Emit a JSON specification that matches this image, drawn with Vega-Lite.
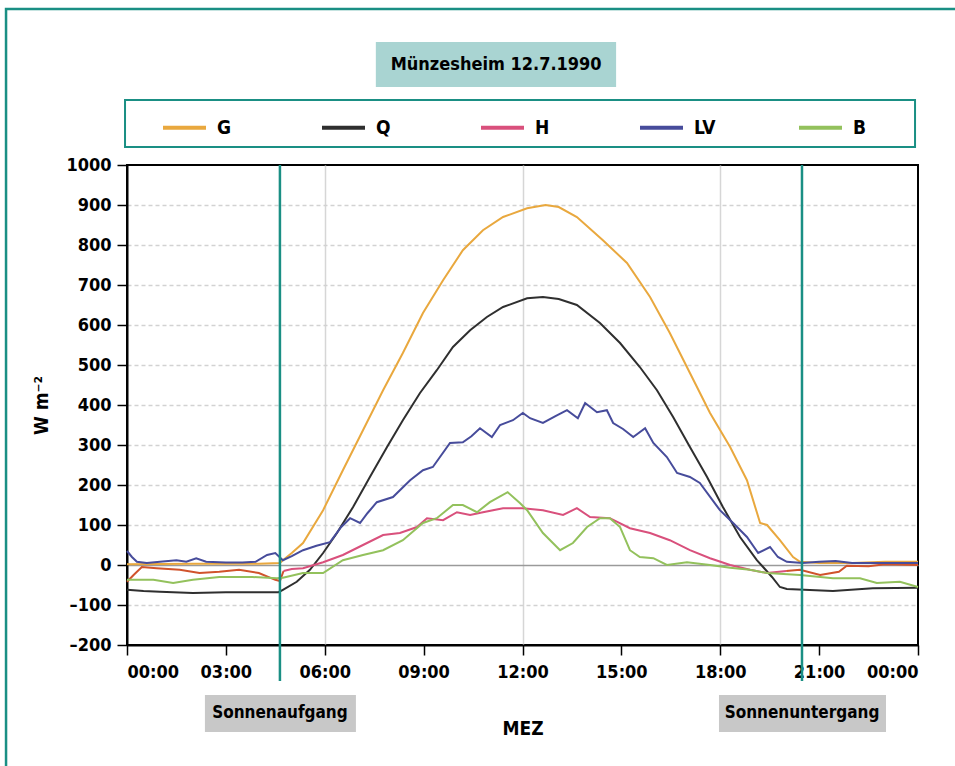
{
  "$schema": "https://vega.github.io/schema/vega-lite/v6.json",
  "width": 791,
  "height": 480,
  "autosize": {"type": "none"},
  "padding": {"left": 127, "top": 165, "right": 37, "bottom": 121},
  "background": "white",
  "config": {
    "font": "DejaVu Sans Condensed",
    "view": {"stroke": "#000000", "strokeWidth": 2},
    "axis": {"labelFont": "DejaVu Sans Condensed", "titleFont": "DejaVu Sans Condensed", "labelFontWeight": "bold", "titleFontWeight": "bold", "labelColor": "#000", "titleColor": "#000", "labelFontSize": 18, "titleFontSize": 19, "domainColor": "#000", "tickColor": "#000", "tickWidth": 1.5, "domainWidth": 2, "labelOverlap": false}
  },
  "datasets": {
    "series": [
      {"serie":"G","zeit":0,"wert":2},{"serie":"G","zeit":2,"wert":3},{"serie":"G","zeit":4,"wert":3},{"serie":"G","zeit":4.64,"wert":5},{"serie":"G","zeit":4.73,"wert":12},{"serie":"G","zeit":5.0,"wert":30},{"serie":"G","zeit":5.34,"wert":55},{"serie":"G","zeit":5.95,"wert":137},{"serie":"G","zeit":6.55,"wert":237},{"serie":"G","zeit":7.16,"wert":337},{"serie":"G","zeit":7.77,"wert":437},{"serie":"G","zeit":8.37,"wert":530},{"serie":"G","zeit":8.98,"wert":630},{"serie":"G","zeit":9.59,"wert":712},{"serie":"G","zeit":10.19,"wert":787},{"serie":"G","zeit":10.8,"wert":837},{"serie":"G","zeit":11.41,"wert":870},{"serie":"G","zeit":12.14,"wert":892},{"serie":"G","zeit":12.7,"wert":900},{"serie":"G","zeit":13.1,"wert":895},{"serie":"G","zeit":13.65,"wert":870},{"serie":"G","zeit":14.44,"wert":812},{"serie":"G","zeit":15.17,"wert":755},{"serie":"G","zeit":15.87,"wert":670},{"serie":"G","zeit":16.47,"wert":580},{"serie":"G","zeit":17.08,"wert":480},{"serie":"G","zeit":17.69,"wert":380},{"serie":"G","zeit":18.3,"wert":295},{"serie":"G","zeit":18.81,"wert":212},{"serie":"G","zeit":19.21,"wert":105},{"serie":"G","zeit":19.42,"wert":100},{"serie":"G","zeit":19.81,"wert":62},{"serie":"G","zeit":20.21,"wert":20},{"serie":"G","zeit":20.42,"wert":8},{"serie":"G","zeit":21,"wert":5},{"serie":"G","zeit":22,"wert":5},{"serie":"G","zeit":23,"wert":8},{"serie":"G","zeit":24,"wert":8},
      {"serie":"Q","zeit":0,"wert":-62},{"serie":"Q","zeit":0.5,"wert":-65},{"serie":"Q","zeit":1,"wert":-67},{"serie":"Q","zeit":2,"wert":-70},{"serie":"Q","zeit":3,"wert":-68},{"serie":"Q","zeit":4,"wert":-68},{"serie":"Q","zeit":4.6,"wert":-68},{"serie":"Q","zeit":4.73,"wert":-62},{"serie":"Q","zeit":5.15,"wert":-42},{"serie":"Q","zeit":5.55,"wert":-12},{"serie":"Q","zeit":5.95,"wert":30},{"serie":"Q","zeit":6.37,"wert":80},{"serie":"Q","zeit":6.86,"wert":145},{"serie":"Q","zeit":7.37,"wert":220},{"serie":"Q","zeit":7.89,"wert":295},{"serie":"Q","zeit":8.37,"wert":362},{"serie":"Q","zeit":8.89,"wert":430},{"serie":"Q","zeit":9.4,"wert":487},{"serie":"Q","zeit":9.89,"wert":545},{"serie":"Q","zeit":10.41,"wert":587},{"serie":"Q","zeit":10.92,"wert":620},{"serie":"Q","zeit":11.41,"wert":645},{"serie":"Q","zeit":12.14,"wert":667},{"serie":"Q","zeit":12.62,"wert":670},{"serie":"Q","zeit":13.1,"wert":665},{"serie":"Q","zeit":13.65,"wert":650},{"serie":"Q","zeit":14.35,"wert":605},{"serie":"Q","zeit":14.96,"wert":555},{"serie":"Q","zeit":15.56,"wert":495},{"serie":"Q","zeit":16.08,"wert":437},{"serie":"Q","zeit":16.57,"wert":370},{"serie":"Q","zeit":17.08,"wert":295},{"serie":"Q","zeit":17.6,"wert":220},{"serie":"Q","zeit":18.08,"wert":145},{"serie":"Q","zeit":18.6,"wert":70},{"serie":"Q","zeit":19.11,"wert":12},{"serie":"Q","zeit":19.3,"wert":-5},{"serie":"Q","zeit":19.57,"wert":-30},{"serie":"Q","zeit":19.81,"wert":-55},{"serie":"Q","zeit":20.02,"wert":-60},{"serie":"Q","zeit":21.42,"wert":-65},{"serie":"Q","zeit":22.63,"wert":-58},{"serie":"Q","zeit":24,"wert":-57},
      {"serie":"Hn1","zeit":0,"wert":-42},{"serie":"Hn1","zeit":0.2,"wert":-25},{"serie":"Hn1","zeit":0.45,"wert":-5},{"serie":"Hn1","zeit":0.9,"wert":-8},{"serie":"Hn1","zeit":1.6,"wert":-12},{"serie":"Hn1","zeit":2.2,"wert":-20},{"serie":"Hn1","zeit":2.8,"wert":-17},{"serie":"Hn1","zeit":3.4,"wert":-12},{"serie":"Hn1","zeit":4.0,"wert":-20},{"serie":"Hn1","zeit":4.5,"wert":-37},{"serie":"Hn1","zeit":4.64,"wert":-40},{"serie":"Hn1","zeit":4.75,"wert":-15},
      {"serie":"H","zeit":4.75,"wert":-15},{"serie":"H","zeit":5.0,"wert":-10},{"serie":"H","zeit":5.34,"wert":-8},{"serie":"H","zeit":5.95,"wert":7},{"serie":"H","zeit":6.55,"wert":25},{"serie":"H","zeit":7.16,"wert":50},{"serie":"H","zeit":7.77,"wert":75},{"serie":"H","zeit":8.28,"wert":80},{"serie":"H","zeit":8.8,"wert":95},{"serie":"H","zeit":9.1,"wert":117},{"serie":"H","zeit":9.59,"wert":112},{"serie":"H","zeit":10.01,"wert":132},{"serie":"H","zeit":10.41,"wert":125},{"serie":"H","zeit":10.8,"wert":132},{"serie":"H","zeit":11.41,"wert":142},{"serie":"H","zeit":12.01,"wert":142},{"serie":"H","zeit":12.62,"wert":137},{"serie":"H","zeit":13.23,"wert":125},{"serie":"H","zeit":13.65,"wert":142},{"serie":"H","zeit":14.05,"wert":120},{"serie":"H","zeit":14.65,"wert":117},{"serie":"H","zeit":15.26,"wert":92},{"serie":"H","zeit":15.87,"wert":80},{"serie":"H","zeit":16.47,"wert":62},{"serie":"H","zeit":17.08,"wert":37},{"serie":"H","zeit":17.69,"wert":17},{"serie":"H","zeit":18.3,"wert":0},{"serie":"H","zeit":18.9,"wert":-12},{"serie":"H","zeit":19.42,"wert":-20},{"serie":"H","zeit":20.0,"wert":-15},
      {"serie":"Hn2","zeit":20.0,"wert":-15},{"serie":"Hn2","zeit":20.42,"wert":-12},{"serie":"Hn2","zeit":21.03,"wert":-25},{"serie":"Hn2","zeit":21.6,"wert":-17},{"serie":"Hn2","zeit":21.84,"wert":-2},{"serie":"Hn2","zeit":22.5,"wert":-3},{"serie":"Hn2","zeit":23,"wert":2},{"serie":"Hn2","zeit":24,"wert":0},
      {"serie":"LV","zeit":0,"wert":35},{"serie":"LV","zeit":0.15,"wert":20},{"serie":"LV","zeit":0.3,"wert":8},{"serie":"LV","zeit":0.6,"wert":5},{"serie":"LV","zeit":1.0,"wert":8},{"serie":"LV","zeit":1.5,"wert":12},{"serie":"LV","zeit":1.8,"wert":8},{"serie":"LV","zeit":2.1,"wert":17},{"serie":"LV","zeit":2.4,"wert":8},{"serie":"LV","zeit":3,"wert":6},{"serie":"LV","zeit":3.5,"wert":6},{"serie":"LV","zeit":3.9,"wert":8},{"serie":"LV","zeit":4.25,"wert":25},{"serie":"LV","zeit":4.5,"wert":30},{"serie":"LV","zeit":4.73,"wert":12},{"serie":"LV","zeit":5.0,"wert":22},{"serie":"LV","zeit":5.34,"wert":37},{"serie":"LV","zeit":5.75,"wert":48},{"serie":"LV","zeit":6.16,"wert":57},{"serie":"LV","zeit":6.5,"wert":95},{"serie":"LV","zeit":6.77,"wert":117},{"serie":"LV","zeit":7.07,"wert":105},{"serie":"LV","zeit":7.3,"wert":130},{"serie":"LV","zeit":7.58,"wert":157},{"serie":"LV","zeit":8.07,"wert":170},{"serie":"LV","zeit":8.59,"wert":212},{"serie":"LV","zeit":8.98,"wert":237},{"serie":"LV","zeit":9.28,"wert":245},{"serie":"LV","zeit":9.8,"wert":305},{"serie":"LV","zeit":10.19,"wert":307},{"serie":"LV","zeit":10.45,"wert":322},{"serie":"LV","zeit":10.71,"wert":342},{"serie":"LV","zeit":11.07,"wert":320},{"serie":"LV","zeit":11.32,"wert":350},{"serie":"LV","zeit":11.71,"wert":362},{"serie":"LV","zeit":12.01,"wert":380},{"serie":"LV","zeit":12.23,"wert":367},{"serie":"LV","zeit":12.62,"wert":355},{"serie":"LV","zeit":13.0,"wert":372},{"serie":"LV","zeit":13.35,"wert":387},{"serie":"LV","zeit":13.68,"wert":367},{"serie":"LV","zeit":13.9,"wert":405},{"serie":"LV","zeit":14.26,"wert":382},{"serie":"LV","zeit":14.56,"wert":387},{"serie":"LV","zeit":14.75,"wert":355},{"serie":"LV","zeit":15.05,"wert":340},{"serie":"LV","zeit":15.36,"wert":320},{"serie":"LV","zeit":15.72,"wert":342},{"serie":"LV","zeit":15.97,"wert":305},{"serie":"LV","zeit":16.38,"wert":270},{"serie":"LV","zeit":16.69,"wert":230},{"serie":"LV","zeit":17.08,"wert":220},{"serie":"LV","zeit":17.38,"wert":205},{"serie":"LV","zeit":17.99,"wert":137},{"serie":"LV","zeit":18.39,"wert":105},{"serie":"LV","zeit":18.81,"wert":70},{"serie":"LV","zeit":19.15,"wert":30},{"serie":"LV","zeit":19.51,"wert":45},{"serie":"LV","zeit":19.75,"wert":20},{"serie":"LV","zeit":20.02,"wert":8},{"serie":"LV","zeit":20.5,"wert":5},{"serie":"LV","zeit":21,"wert":8},{"serie":"LV","zeit":21.5,"wert":10},{"serie":"LV","zeit":22,"wert":5},{"serie":"LV","zeit":23,"wert":5},{"serie":"LV","zeit":24,"wert":5},
      {"serie":"B","zeit":0,"wert":-37},{"serie":"B","zeit":0.8,"wert":-37},{"serie":"B","zeit":1.4,"wert":-45},{"serie":"B","zeit":2.0,"wert":-37},{"serie":"B","zeit":2.8,"wert":-30},{"serie":"B","zeit":3.8,"wert":-30},{"serie":"B","zeit":4.55,"wert":-33},{"serie":"B","zeit":4.73,"wert":-32},{"serie":"B","zeit":5.34,"wert":-20},{"serie":"B","zeit":5.95,"wert":-20},{"serie":"B","zeit":6.55,"wert":12},{"serie":"B","zeit":7.16,"wert":25},{"serie":"B","zeit":7.77,"wert":37},{"serie":"B","zeit":8.37,"wert":62},{"serie":"B","zeit":8.98,"wert":105},{"serie":"B","zeit":9.4,"wert":117},{"serie":"B","zeit":9.89,"wert":150},{"serie":"B","zeit":10.19,"wert":150},{"serie":"B","zeit":10.62,"wert":132},{"serie":"B","zeit":11.01,"wert":157},{"serie":"B","zeit":11.55,"wert":182},{"serie":"B","zeit":11.92,"wert":155},{"serie":"B","zeit":12.14,"wert":137},{"serie":"B","zeit":12.62,"wert":80},{"serie":"B","zeit":13.14,"wert":37},{"serie":"B","zeit":13.53,"wert":55},{"serie":"B","zeit":13.96,"wert":95},{"serie":"B","zeit":14.35,"wert":117},{"serie":"B","zeit":14.65,"wert":117},{"serie":"B","zeit":14.96,"wert":95},{"serie":"B","zeit":15.26,"wert":37},{"serie":"B","zeit":15.56,"wert":20},{"serie":"B","zeit":15.97,"wert":17},{"serie":"B","zeit":16.38,"wert":0},{"serie":"B","zeit":16.99,"wert":7},{"serie":"B","zeit":17.69,"wert":0},{"serie":"B","zeit":18.3,"wert":-7},{"serie":"B","zeit":18.9,"wert":-12},{"serie":"B","zeit":19.42,"wert":-20},{"serie":"B","zeit":20.42,"wert":-25},{"serie":"B","zeit":21.42,"wert":-33},{"serie":"B","zeit":22.24,"wert":-33},{"serie":"B","zeit":22.75,"wert":-45},{"serie":"B","zeit":23.45,"wert":-42},{"serie":"B","zeit":24,"wert":-55}
    ],
    "events": [
      {"ereignis": "Sonnenaufgang", "zeit": 4.64},
      {"ereignis": "Sonnenuntergang", "zeit": 20.48}
    ],
    "titel": [{"text": "Münzesheim 12.7.1990"}]
  },
  "layer": [
    {
      "data": {"name": "series"},
      "mark": {"type": "line", "strokeWidth": 2, "interpolate": "linear"},
      "encoding": {
        "x": {"field": "zeit", "type": "quantitative",
          "scale": {"domain": [0, 24], "nice": false, "zero": false},
          "axis": {"title": "MEZ", "values": [0, 3, 6, 9, 12, 15, 18, 21, 24], "tickCount": 30, "tickSize": 10, "labelPadding": 8, "titlePadding": 38,
            "labelExpr": "(datum.value % 24 < 10 ? '0' : '') + (datum.value % 24) + ':00'",
            "grid": true, "gridColor": "#d6d6d6", "gridWidth": 1.5,
            "gridOpacity": {"condition": {"test": "datum.value % 6 === 0 && datum.value > 0 && datum.value < 24", "value": 1}, "value": 0}}},
        "y": {"field": "wert", "type": "quantitative",
          "scale": {"domain": [-200, 1000], "nice": false, "zero": false},
          "axis": {"title": "W m⁻²", "values": [-200, -100, 0, 100, 200, 300, 400, 500, 600, 700, 800, 900, 1000], "tickCount": 30, "labelOverlap": false, "tickSize": 10, "labelPadding": 6, "titlePadding": 14,
            "labelExpr": "datum.value < 0 ? '–' + abs(datum.value) : '' + datum.value",
            "grid": true,
            "gridColor": {"condition": {"test": "datum.value === 0", "value": "#9a9a9a"}, "value": "#d2d2d2"},
            "gridDash": {"condition": {"test": "datum.value === 0", "value": []}, "value": [4, 3]},
            "gridOpacity": {"condition": {"test": "datum.value === 1000 || datum.value === -200", "value": 0}, "value": 1},
            "gridWidth": 1.5}},
        "color": {"field": "serie", "type": "nominal",
          "scale": {"domain": ["G", "Q", "H", "LV", "B", "Hn1", "Hn2"], "range": ["#e9a83e", "#2f2f2f", "#d9507c", "#474c9b", "#93c15c", "#d0532c", "#d0532c"]},
          "legend": {"values": ["G", "Q", "H", "LV", "B"], "orient": "none", "legendX": 34, "legendY": -61, "direction": "horizontal", "columns": 5, "title": null,
            "symbolType": "stroke", "symbolSize": 1849, "symbolStrokeWidth": 4, "labelOffset": 9, "gridAlign": "all", "columnPadding": 75,
            "labelFont": "DejaVu Sans Condensed", "labelFontWeight": "bold", "labelFontSize": 19, "labelColor": "#000", "padding": 0}}
      }
    },
    {
      "data": {"values": [{}]},
      "mark": {"type": "rect", "fill": null, "stroke": "#1a8f84", "strokeWidth": 2.5},
      "encoding": {
        "x": {"datum": -3.67, "type": "quantitative", "scale": {"domain": [0, 24], "nice": false, "zero": false}},
        "x2": {"datum": 26},
        "y": {"datum": 1390, "type": "quantitative", "scale": {"domain": [-200, 1000], "nice": false, "zero": false}},
        "y2": {"datum": -600}
      }
    },
    {
      "data": {"values": [{}]},
      "mark": {"type": "rect", "fill": "#a9d4d2", "stroke": null},
      "encoding": {
        "x": {"datum": 7.55, "type": "quantitative", "scale": {"domain": [0, 24], "nice": false, "zero": false}},
        "x2": {"datum": 14.84},
        "y": {"datum": 1307.5, "type": "quantitative", "scale": {"domain": [-200, 1000], "nice": false, "zero": false}},
        "y2": {"datum": 1195}
      }
    },
    {
      "data": {"name": "titel"},
      "mark": {"type": "text", "font": "DejaVu Sans Condensed", "fontWeight": "bold", "fontSize": 18, "color": "#000", "align": "center", "baseline": "middle"},
      "encoding": {
        "x": {"datum": 11.2, "type": "quantitative", "scale": {"domain": [0, 24], "nice": false, "zero": false}},
        "y": {"datum": 1250, "type": "quantitative", "scale": {"domain": [-200, 1000], "nice": false, "zero": false}},
        "text": {"field": "text"}
      }
    },
    {
      "data": {"values": [{}]},
      "mark": {"type": "rect", "fill": null, "stroke": "#1a8f84", "strokeWidth": 2},
      "encoding": {
        "x": {"datum": -0.06, "type": "quantitative", "scale": {"domain": [0, 24], "nice": false, "zero": false}},
        "x2": {"datum": 23.91},
        "y": {"datum": 1162.5, "type": "quantitative", "scale": {"domain": [-200, 1000], "nice": false, "zero": false}},
        "y2": {"datum": 1045}
      }
    },
    {
      "data": {"name": "events"},
      "mark": {"type": "rule", "stroke": "#1a8f84", "strokeWidth": 2.5},
      "encoding": {
        "x": {"field": "zeit", "type": "quantitative", "scale": {"domain": [0, 24], "nice": false, "zero": false}},
        "y": {"datum": 1000, "type": "quantitative", "scale": {"domain": [-200, 1000], "nice": false, "zero": false}},
        "y2": {"datum": -290}
      }
    },
    {
      "data": {"name": "events"},
      "transform": [{"filter": "datum.ereignis === 'Sonnenaufgang'"}],
      "mark": {"type": "rect", "fill": "#c8c8c8", "xOffset": -75, "x2Offset": 76},
      "encoding": {
        "x": {"field": "zeit", "type": "quantitative", "scale": {"domain": [0, 24], "nice": false, "zero": false}},
        "x2": {"field": "zeit"},
        "y": {"datum": -325, "type": "quantitative", "scale": {"domain": [-200, 1000], "nice": false, "zero": false}},
        "y2": {"datum": -417.5}
      }
    },
    {
      "data": {"name": "events"},
      "transform": [{"filter": "datum.ereignis === 'Sonnenuntergang'"}],
      "mark": {"type": "rect", "fill": "#c8c8c8", "xOffset": -83, "x2Offset": 84},
      "encoding": {
        "x": {"field": "zeit", "type": "quantitative", "scale": {"domain": [0, 24], "nice": false, "zero": false}},
        "x2": {"field": "zeit"},
        "y": {"datum": -325, "type": "quantitative", "scale": {"domain": [-200, 1000], "nice": false, "zero": false}},
        "y2": {"datum": -417.5}
      }
    },
    {
      "data": {"name": "events"},
      "mark": {"type": "text", "font": "DejaVu Sans Condensed", "fontWeight": "bold", "fontSize": 17, "color": "#000", "align": "center", "baseline": "middle"},
      "encoding": {
        "x": {"field": "zeit", "type": "quantitative", "scale": {"domain": [0, 24], "nice": false, "zero": false}},
        "y": {"datum": -371, "type": "quantitative", "scale": {"domain": [-200, 1000], "nice": false, "zero": false}},
        "text": {"field": "ereignis"}
      }
    }
  ]
}
